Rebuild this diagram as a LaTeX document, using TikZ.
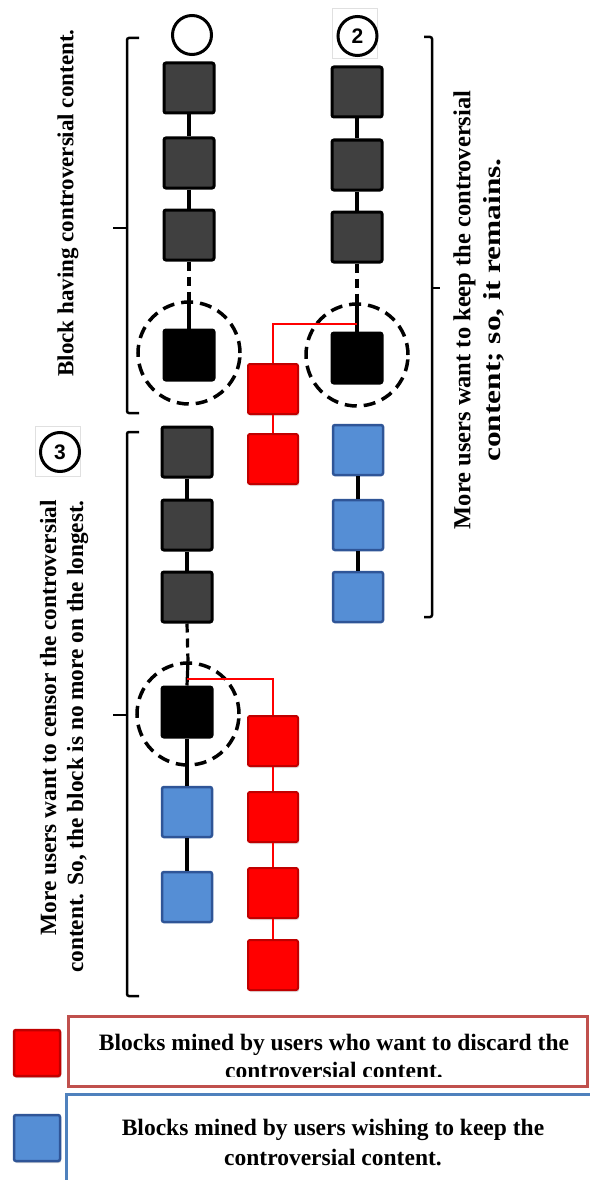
\documentclass[tikz,border=0pt]{standalone}
\usepackage{fontspec}
\usepackage{graphicx}
\setmainfont{Liberation Serif}
\newfontfamily\badgefont{Liberation Sans}
\usetikzlibrary{shadows}
\definecolor{blockgray}{HTML}{404040}
\definecolor{redfill}{HTML}{FF0000}
\definecolor{redline}{HTML}{C00000}
\definecolor{bluefill}{HTML}{558ED5}
\definecolor{blueline}{HTML}{2F5597}
\definecolor{legred}{HTML}{C0504D}
\definecolor{legblue}{HTML}{4F81BD}
\begin{document}
\begin{tikzpicture}[x=1pt,y=-1pt,
  blk/.style={minimum size=50pt, inner sep=0pt, rounded corners=2pt, line width=3pt},
  grayblk/.style={blk, draw=black, fill=blockgray},
  darkblk/.style={blk, draw=black, fill=black},
  redblk/.style={blk, draw=redline, fill=redfill, line width=2pt,
    drop shadow={opacity=0.25, shadow xshift=1pt, shadow yshift=-2pt}},
  blueblk/.style={blk, draw=blueline, fill=bluefill, line width=2.5pt},
  chainlink/.style={line width=3.2pt},
  dashlink/.style={line width=3.2pt, dash pattern=on 9pt off 6pt},
  redlink/.style={line width=2.6pt, draw=red},
  ring/.style={circle, draw, line width=3.5pt, dash pattern=on 12pt off 7pt,
    minimum size=102pt, inner sep=0pt},
  badge/.style={circle, draw, line width=3pt, minimum size=39pt, inner sep=0pt,
    font=\badgefont\bfseries\fontsize{21}{24}\selectfont},
  badgebox/.style={draw=black!12, fill=white, line width=0.6pt,
    minimum width=45pt, minimum height=50pt, inner sep=0pt},
  brace/.style={line width=2.5pt, rounded corners=2pt},
  note/.style={rotate=90, inner sep=0pt},
  legsq/.style={minimum size=46pt, inner sep=0pt, rounded corners=2pt, line width=2.5pt,
    drop shadow={opacity=0.3, shadow xshift=1pt, shadow yshift=-2pt}},
  legtext/.style={align=center, inner sep=0pt}
]
\useasboundingbox (0,0) rectangle (589,1180);
\fill[white] (0,0) rectangle (589,1180);

% ---------- first chain (left, top) ----------
\node[badge] (a0) at (192,35) {};
\node[grayblk] (a1) at (189,88) {};
\node[grayblk] (a2) at (189,163) {};
\node[grayblk] (a3) at (189,235) {};
\node[ring] (ra) at (189,353) {};
\node[darkblk] (a4) at (189,355) {};
\draw[chainlink] (a1) -- (a2);
\draw[chainlink] (a2) -- (a3);
\draw[dashlink] (a3.south) -- (ra.north);
\draw[chainlink] (ra.north) -- (a4.north);

% ---------- second chain (right, top) ----------
\node[badgebox] (b0box) at (354.5,33) {};
\node[badge] (b0) at (357.5,36) {2};
\node[grayblk] (b1) at (357,92) {};
\node[grayblk] (b2) at (357,165) {};
\node[grayblk] (b3) at (357,237) {};
\node[ring] (rb) at (357,355) {};
\node[darkblk] (b4) at (357,358) {};
\draw[chainlink] (b1) -- (b2);
\draw[chainlink] (b2) -- (b3);
\draw[dashlink] (b3.south) -- (rb.north);
\draw[chainlink] (rb.north) -- (b4.north);
% competing fork
\coordinate (bfork) at (357,324);
\node[redblk] (r1) at (273,389) {};
\node[redblk] (r2) at (273,459) {};
\draw[redlink] (bfork) -| (r1.north);
\draw[redlink] (r1) -- (r2);
\node[blueblk] (u1) at (358,450) {};
\node[blueblk] (u2) at (358,525) {};
\node[blueblk] (u3) at (358,597) {};
\draw[chainlink] (u1) -- (u2);
\draw[chainlink] (u2) -- (u3);

% ---------- third chain (left, bottom) ----------
\node[badgebox] (c0box) at (57.5,451) {};
\node[badge] (c0) at (60,452) {3};
\node[grayblk] (c1) at (187,452) {};
\node[grayblk] (c2) at (187,525) {};
\node[grayblk] (c3) at (187,597) {};
\node[ring] (rc) at (188,714) {};
\node[darkblk] (c4) at (187,712) {};
\draw[chainlink] (c1) -- (c2);
\draw[chainlink] (c2) -- (c3);
\draw[dashlink] (c3.south) -- (rc.north);
\draw[chainlink] (rc.north) -- (c4.north);
\node[blueblk] (v1) at (187,812) {};
\node[blueblk] (v2) at (187,897) {};
\draw[chainlink] (c4) -- (v1);
\draw[chainlink] (v1) -- (v2);
\coordinate (cfork) at (187,679);
\node[redblk] (s1) at (273,741) {};
\node[redblk] (s2) at (273,817) {};
\node[redblk] (s3) at (273,893) {};
\node[redblk] (s4) at (273,965) {};
\draw[redlink] (cfork) -| (s1.north);
\draw[redlink] (s1) -- (s2);
\draw[redlink] (s2) -- (s3);
\draw[redlink] (s3) -- (s4);

% ---------- brackets ----------
\draw[brace] (139,38) -- (127,38) -- (127,413) -- (139,413);
\draw[brace] (127,228) -- (113,228);
\draw[brace] (139,432) -- (127,432) -- (127,996) -- (139,996);
\draw[brace] (127,715) -- (113,715);
\draw[brace] (424,37) -- (432,37) -- (432,617) -- (424,617);
\draw[brace] (432,288) -- (440,288);

% ---------- annotations ----------
\node[note, font=\bfseries\fontsize{23}{27}\selectfont] (t1) at (68,203)
  {Block having controversial content.};
\node[note, anchor=east, align=right, font=\bfseries\fontsize{23.3}{27}\selectfont] (t3) at (64,500)
  {More users want to censor the controversial\\content. So, the block is no more on the longest.};
\node[note, align=center, font=\bfseries\fontsize{24.5}{30.5}\selectfont] (t2) at (479,310)
  {More users want to keep the controversial\\\scalebox{1.28}[1]{content; so, it remains.}};

% ---------- legend ----------
\node[legsq, draw=redline, fill=redfill] (lr) at (37,1053) {};
\node[legsq, draw=blueline, fill=bluefill] (lb) at (37,1138) {};
\draw[legblue, line width=3pt] (66,1094) rectangle (600,1200);
\draw[legred, line width=3pt] (68,1016) rectangle (587,1086);
\begin{scope}
  \clip (70,1018) rectangle (585,1076);
  \node[legtext, font=\bfseries\fontsize{23.5}{28}\selectfont] (lrt) at (334,1057)
    {Blocks mined by users who want to discard the\\controversial content.};
\end{scope}
\node[legtext, font=\bfseries\fontsize{23.5}{30}\selectfont] (lbt) at (333,1142)
  {Blocks mined by users wishing to keep the\\controversial content.};
\end{tikzpicture}
\end{document}
